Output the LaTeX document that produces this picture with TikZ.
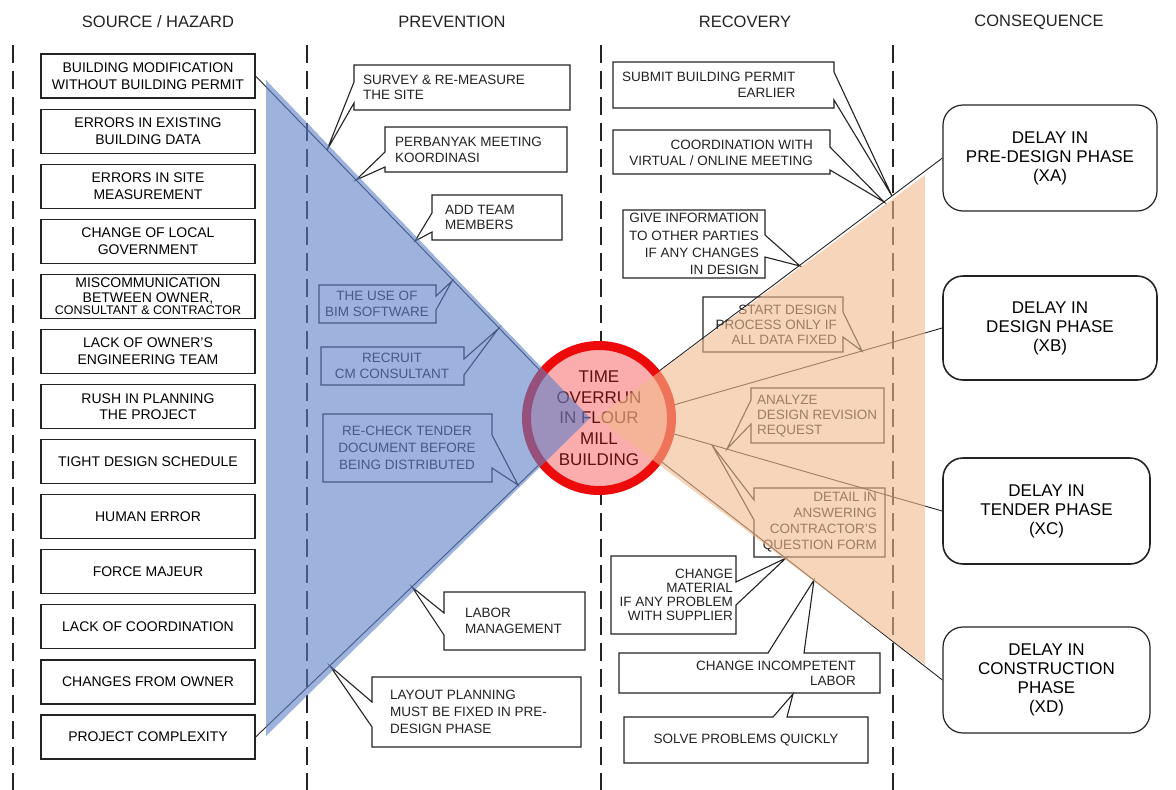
\documentclass[tikz,border=0pt]{standalone}
\usepackage{fontspec}
\setmainfont{Liberation Sans}
\usetikzlibrary{calc}
\definecolor{bluetri}{RGB}{92,128,200}
\definecolor{peachtri}{RGB}{242,185,140}
\definecolor{ringred}{RGB}{236,10,10}
\definecolor{pinkfill}{RGB}{251,172,172}
\definecolor{circtext}{RGB}{95,15,15}
\definecolor{ink}{RGB}{35,35,35}
\begin{document}
\begin{tikzpicture}[x=1pt,y=-1pt,
  hdr/.style={font=\fontsize{16.5}{19}\selectfont, text=ink, inner sep=0pt},
  divider/.style={ink, line width=1.3pt, dash pattern=on 18pt off 8pt},
  srcbox/.style={draw=ink, line width=1.2pt, fill=white, minimum width=214pt, minimum height=44pt, inner sep=0pt, align=center, font=\fontsize{14}{16.5}\selectfont},
  cshape/.style={draw=ink, line width=1.1pt, fill=white, line join=miter},
  ctext/.style={inner sep=0pt, text=ink, font=\fontsize{13.5}{15.5}\selectfont},
  conbox/.style={draw=ink, line width=1.2pt, rounded corners=20pt, fill=white, inner sep=0pt, align=center, font=\fontsize{17}{19}\selectfont},
  link/.style={ink, line width=0.9pt},
]
\useasboundingbox (0,0) rectangle (1176,790);

% column dividers
\foreach \x in {13,307,601,893} \draw[divider] (\x,45) -- (\x,790);

% headers
\node[hdr] (h1) at (158,22) {SOURCE / HAZARD};
\node[hdr] (h2) at (452,22) {PREVENTION};
\node[hdr] (h3) at (745,22) {RECOVERY};
\node[hdr] (h4) at (1039,22) {CONSEQUENCE};

% source / hazard boxes
\node[srcbox] (s1) at (148,76) {BUILDING MODIFICATION\\WITHOUT BUILDING PERMIT};
\node[srcbox] (s2) at (148,131.1) {ERRORS IN EXISTING\\BUILDING DATA};
\node[srcbox] (s3) at (148,186.2) {ERRORS IN SITE\\MEASUREMENT};
\node[srcbox] (s4) at (148,241.2) {CHANGE OF LOCAL\\GOVERNMENT};
\node[srcbox, font=\fontsize{14}{15}\selectfont] (s5) at (148,296.3) {MISCOMMUNICATION\\BETWEEN OWNER,\\[-3pt]{\fontsize{12.5}{13}\selectfont CONSULTANT \& CONTRACTOR}};
\node[srcbox] (s6) at (148,351.4) {LACK OF OWNER'S\\ENGINEERING TEAM};
\node[srcbox] (s7) at (148,406.5) {RUSH IN PLANNING\\THE PROJECT};
\node[srcbox] (s8) at (148,461.6) {TIGHT DESIGN SCHEDULE};
\node[srcbox] (s9) at (148,516.6) {HUMAN ERROR};
\node[srcbox] (s10) at (148,571.7) {FORCE MAJEUR};
\node[srcbox] (s11) at (148,626.8) {LACK OF COORDINATION};
\node[srcbox] (s12) at (148,681.9) {CHANGES FROM OWNER};
\node[srcbox] (s13) at (148,737) {PROJECT COMPLEXITY};

% prevention callouts
\draw[cshape] (354,65) -- (570,65) -- (570,110) -- (354,110) -- (354,103) -- (327,150) -- (354,82) -- cycle;
\node[ctext, anchor=west, align=left] (p1) at (363,87.5) {SURVEY \& RE-MEASURE\\THE SITE};
\draw[cshape] (385,127) -- (567,127) -- (567,172) -- (385,172) -- (385,167) -- (356,180) -- (385,152) -- cycle;
\node[ctext, anchor=west, align=left] (p2) at (395,150) {PERBANYAK MEETING\\KOORDINASI};
\draw[cshape] (432,195) -- (562,195) -- (562,240) -- (432,240) -- (432,232) -- (415,241) -- (432,213) -- cycle;
\node[ctext, anchor=west, align=left] (p3) at (445,217.5) {ADD TEAM\\MEMBERS};
\draw[cshape] (319,285) -- (436,285) -- (436,296) -- (452,281) -- (436,310) -- (436,323) -- (319,323) -- cycle;
\node[ctext, align=center] (p4) at (377,304) {THE USE OF\\BIM SOFTWARE};
\draw[cshape] (321,347) -- (464,347) -- (464,359) -- (498,329) -- (464,375) -- (464,385) -- (321,385) -- cycle;
\node[ctext, align=center] (p5) at (392,366) {RECRUIT\\CM CONSULTANT};
\draw[cshape] (323,414) -- (492,414) -- (492,435) -- (518,485) -- (492,468) -- (492,482) -- (323,482) -- cycle;
\node[ctext, align=center, font=\fontsize{13.5}{17}\selectfont] (p6) at (407,448) {RE-CHECK TENDER\\DOCUMENT BEFORE\\BEING DISTRIBUTED};
\draw[cshape] (444,592) -- (585,592) -- (585,650) -- (444,650) -- (444,635) -- (412,587) -- (444,613) -- cycle;
\node[ctext, anchor=west, align=left] (p7) at (465,621) {LABOR\\MANAGEMENT};
\draw[cshape] (372,677) -- (581,677) -- (581,747) -- (372,747) -- (372,727) -- (330,666) -- (372,702) -- cycle;
\node[ctext, anchor=west, align=left, font=\fontsize{13.5}{17}\selectfont] (p8) at (390,712) {LAYOUT PLANNING\\MUST BE FIXED IN PRE-\\DESIGN PHASE};

% recovery callouts
\draw[cshape] (613,62) -- (834,62) -- (834,72) -- (892,196) -- (834,100) -- (834,108) -- (613,108) -- cycle;
\node[ctext, anchor=west, align=right] (r1) at (622,85) {SUBMIT BUILDING PERMIT\\EARLIER};
\draw[cshape] (613,130) -- (830,130) -- (830,147) -- (884,202) -- (830,170) -- (830,174) -- (613,174) -- cycle;
\node[ctext, anchor=east, align=right] (r2) at (813,153) {COORDINATION WITH\\VIRTUAL / ONLINE MEETING};
\draw[cshape] (623,210) -- (765,210) -- (765,235) -- (800,266) -- (765,257) -- (765,278) -- (623,278) -- cycle;
\node[ctext, anchor=east, align=right, font=\fontsize{13.5}{17.3}\selectfont] (r3) at (759,244) {GIVE INFORMATION\\TO OTHER PARTIES\\IF ANY CHANGES\\IN DESIGN};
\draw[cshape] (703,297) -- (843,297) -- (843,312) -- (862,351) -- (843,337) -- (843,352) -- (703,352) -- cycle;
\node[ctext, anchor=east, align=right, font=\fontsize{13.5}{15}\selectfont] (r4) at (837,324.5) {START DESIGN\\PROCESS ONLY IF\\ALL DATA FIXED};
\draw[cshape] (751,388) -- (884,388) -- (884,443) -- (751,443) -- (751,424) -- (727,449) -- (751,400) -- cycle;
\node[ctext, anchor=west, align=left, font=\fontsize{13.5}{15}\selectfont] (r5) at (757,416) {ANALYZE\\DESIGN REVISION\\REQUEST};
\draw[cshape] (754,488) -- (885,488) -- (885,557) -- (754,557) -- (754,520) -- (712,445) -- (754,500) -- cycle;
\node[ctext, anchor=east, align=right, font=\fontsize{13.5}{16}\selectfont] (r6) at (877,522.5) {DETAIL IN\\ANSWERING\\CONTRACTOR'S\\QUESTION FORM};
\draw[cshape] (611,556) -- (736,556) -- (736,582) -- (786,558) -- (736,605) -- (736,634) -- (611,634) -- cycle;
\node[ctext, anchor=east, align=right, font=\fontsize{13.5}{13.8}\selectfont] (r7) at (733,595) {CHANGE\\MATERIAL\\IF ANY PROBLEM\\WITH SUPPLIER};
\draw[cshape] (619,653) -- (768,653) -- (814,580) -- (804,653) -- (880,653) -- (880,693) -- (619,693) -- cycle;
\node[ctext, anchor=east, align=right, font=\fontsize{13.5}{15}\selectfont] (r8) at (856,673) {CHANGE INCOMPETENT\\LABOR};
\draw[cshape] (624,717) -- (773,717) -- (793,694) -- (787,717) -- (868,717) -- (868,763) -- (624,763) -- cycle;
\node[ctext, align=center] (r9) at (746,740) {SOLVE PROBLEMS QUICKLY};

% consequence boxes
\node[conbox, minimum width=214pt, minimum height=106pt] (xa) at (1050,158) {DELAY IN\\PRE-DESIGN PHASE\\(XA)};
\node[conbox, line width=1.6pt, minimum width=214pt, minimum height=104pt] (xb) at (1050,328) {DELAY IN\\DESIGN PHASE\\(XB)};
\node[conbox, line width=1.6pt, minimum width=207pt, minimum height=106pt] (xc) at (1046.5,511) {DELAY IN\\TENDER PHASE\\(XC)};
\node[conbox, minimum width=207pt, minimum height=106pt] (xd) at (1046.5,680) {DELAY IN\\CONSTRUCTION\\PHASE\\(XD)};

% top event
\node[circle, draw=ringred, line width=9pt, fill=pinkfill, minimum size=145pt, inner sep=0pt, align=center, text=circtext, font=\fontsize{17}{20.7}\selectfont] (circ) at (599,418) {TIME\\OVERRUN\\IN FLOUR\\MILL\\BUILDING};

% connectors
\draw[link] (s1.east) -- (circ.141);
\draw[link] (s13.east) -- (circ.218);
\draw[link] (circ.38) -- (xa.west);
\draw[link] (circ.10) -- (xb.west);
\draw[link] (circ.-12) -- (xc.west);
\draw[link] (circ.-35) -- (xd.west);

% translucent wedges
\fill[bluetri, fill opacity=0.6] (266,80) -- (590,418) -- (266,736) -- cycle;
\fill[peachtri, fill opacity=0.6] (597,418) -- (925,175) -- (925,665) -- cycle;
\end{tikzpicture}
\end{document}
